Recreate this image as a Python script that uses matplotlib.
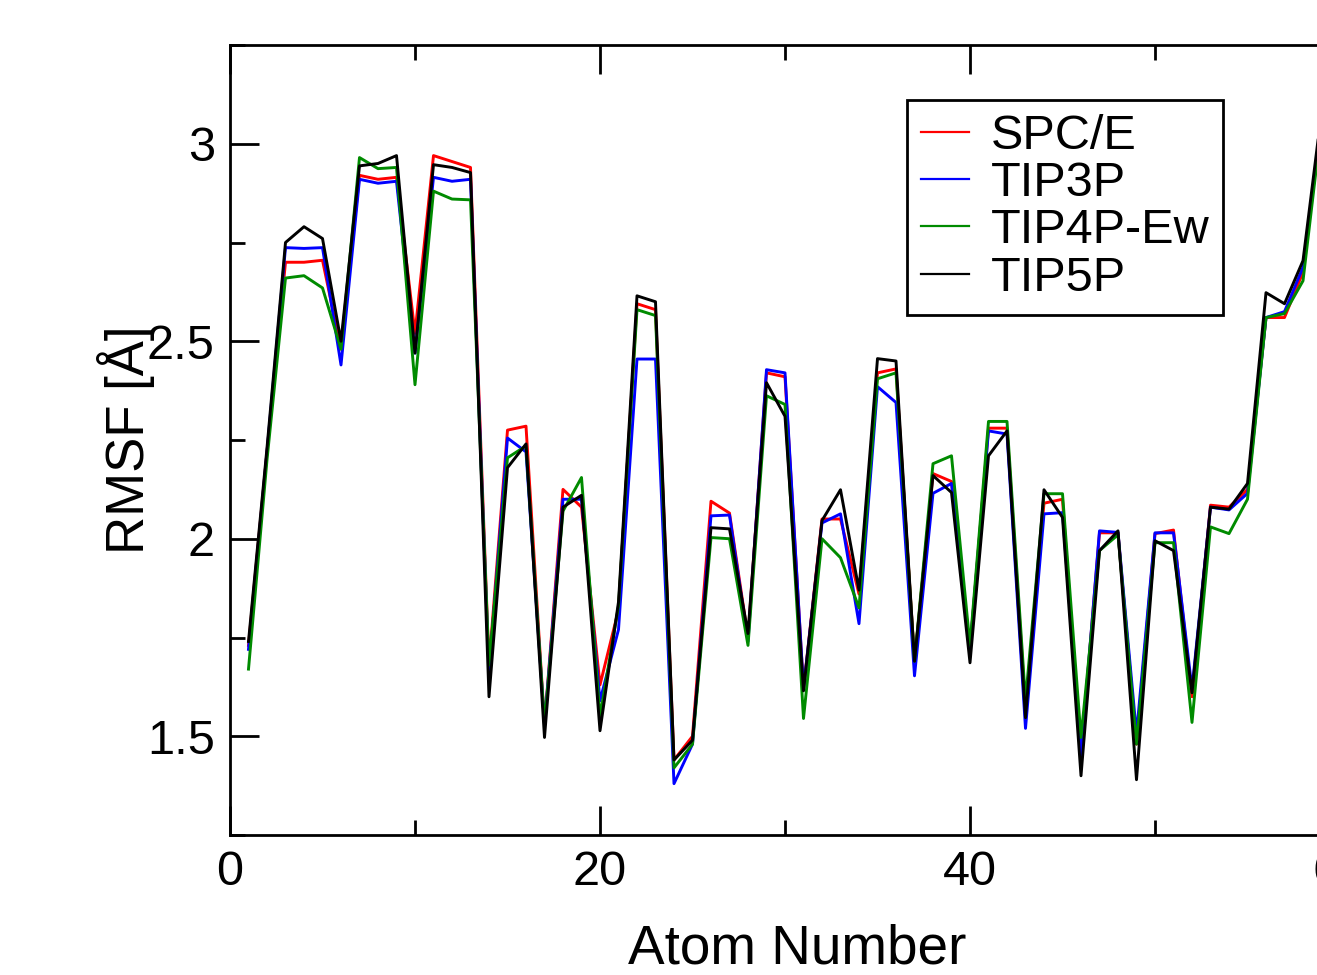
import matplotlib
matplotlib.use("Agg")
import matplotlib.pyplot as plt
import numpy as np
from matplotlib.ticker import MultipleLocator

plt.rcParams['font.family'] = ['Liberation Sans', 'DejaVu Sans']

# RMSF per atom for four water models
atoms = np.arange(1, 60)
spce = [1.73, 2.22, 2.70, 2.70, 2.705, 2.48, 2.92, 2.91, 2.915, 2.52,
        2.97, 2.955, 2.94, 1.68, 2.275, 2.285, 1.53, 2.125, 2.08, 1.63,
        1.82, 2.595, 2.58, 1.44, 1.50, 2.095, 2.065, 1.75, 2.42, 2.41,
        1.62, 2.05, 2.05, 1.86, 2.42, 2.43, 1.69, 2.165, 2.145, 1.72,
        2.28, 2.28, 1.57, 2.09, 2.10, 1.45, 2.015, 2.015, 1.48, 2.013,
        2.022, 1.60, 2.085, 2.08, 2.125, 2.56, 2.56, 2.675, 3.06]
tip3p = [1.72, 2.22, 2.737, 2.735, 2.737, 2.44, 2.91, 2.90, 2.905, 2.47,
         2.915, 2.905, 2.91, 1.66, 2.255, 2.22, 1.53, 2.10, 2.10, 1.59,
         1.77, 2.455, 2.455, 1.38, 1.48, 2.058, 2.06, 1.74, 2.428, 2.42,
         1.62, 2.04, 2.063, 1.785, 2.385, 2.345, 1.653, 2.115, 2.14, 1.72,
         2.273, 2.265, 1.52, 2.063, 2.066, 1.45, 2.02, 2.016, 1.506, 2.015,
         2.015, 1.62, 2.08, 2.073, 2.115, 2.56, 2.575, 2.687, 3.06]
tip4p_ew = [1.67, 2.20, 2.66, 2.666, 2.635, 2.48, 2.965, 2.937, 2.94, 2.39,
            2.88, 2.86, 2.858, 1.68, 2.205, 2.235, 1.53, 2.07, 2.155, 1.55,
            1.83, 2.58, 2.565, 1.42, 1.48, 2.003, 2.0, 1.73, 2.362, 2.34,
            1.545, 2.0, 1.952, 1.825, 2.405, 2.42, 1.69, 2.19, 2.21, 1.73,
            2.297, 2.297, 1.59, 2.114, 2.114, 1.497, 1.97, 2.01, 1.48, 1.99,
            1.99, 1.535, 2.03, 2.013, 2.10, 2.56, 2.57, 2.653, 3.05]
tip5p = [1.74, 2.23, 2.75, 2.79, 2.76, 2.50, 2.944, 2.95, 2.97, 2.47,
         2.947, 2.94, 2.927, 1.60, 2.18, 2.24, 1.497, 2.08, 2.11, 1.514,
         1.84, 2.615, 2.60, 1.44, 1.49, 2.028, 2.025, 1.76, 2.395, 2.31,
         1.615, 2.046, 2.124, 1.87, 2.456, 2.45, 1.69, 2.16, 2.117, 1.686,
         2.21, 2.273, 1.547, 2.124, 2.054, 1.40, 1.97, 2.02, 1.39, 1.995,
         1.97, 1.61, 2.08, 2.075, 2.14, 2.623, 2.595, 2.704, 3.08]

labels = ['SPC/E', 'TIP3P', 'TIP4P-Ew', 'TIP5P']
colors = ['#ff0000', '#0000ff', '#008b00', '#000000']

fig = plt.figure(figsize=(13.17, 9.75), dpi=100)
# axes run past the right edge, like the cropped original
ax = fig.add_axes([230 / 1317, 140 / 975, 1110 / 1317, 790 / 975])

for series, label, color in zip([spce, tip3p, tip4p_ew, tip5p], labels, colors):
    ax.plot(atoms, series, color=color, lw=2.1, label=label)

ax.set_xlim(0, 60)
ax.set_ylim(1.25, 3.25)
ax.xaxis.set_major_locator(MultipleLocator(20))
ax.xaxis.set_minor_locator(MultipleLocator(10))
ax.yaxis.set_major_locator(MultipleLocator(0.5))
ax.yaxis.set_minor_locator(MultipleLocator(0.25))
ax.yaxis.set_major_formatter(plt.FuncFormatter(lambda v, p: f'{v:g}'))

ax.tick_params(which='both', direction='in', top=True, right=False, width=2)
ax.tick_params(which='major', length=21, pad=11, labelsize=35)
ax.tick_params(which='minor', length=11)
for spine in ax.spines.values():
    spine.set_linewidth(2)

ax.set_xlabel('Atom Number', fontsize=39.5, labelpad=20)
ax.xaxis.label.set_x(0.511)
ax.set_ylabel('RMSF [Å]', fontsize=38, labelpad=-6)

leg = ax.legend(loc='upper left', bbox_to_anchor=(907 / 1317, 1 - 100 / 975),
                bbox_transform=fig.transFigure, fontsize=35, frameon=True,
                fancybox=False, framealpha=1, borderpad=0.28, borderaxespad=0,
                handlelength=1.0, handletextpad=0.45, labelspacing=0.05)
leg.get_frame().set_edgecolor('black')
leg.get_frame().set_linewidth(2)
for line in leg.get_lines():
    line.set_linewidth(1.6)

fig.savefig('out.png', dpi=100)
